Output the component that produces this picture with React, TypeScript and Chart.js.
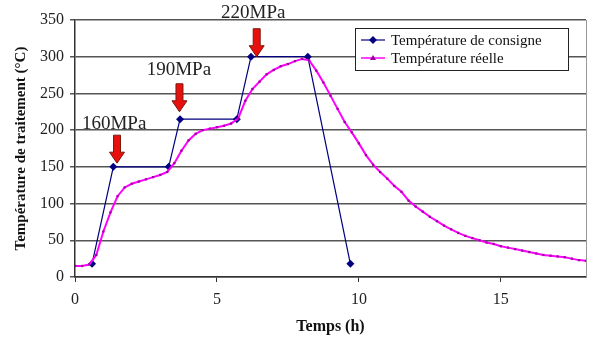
import React, { useEffect, useRef } from "react";
import { Chart, registerables } from "chart.js";

Chart.register(...registerables);

// Température de consigne (setpoint)
const consigneTemps = [0.6, 1.35, 3.3, 3.7, 5.7, 6.2, 8.2, 9.7];
const consigneValues = [18, 150, 150, 215, 215, 300, 300, 18];

// Température réelle (measured)
const reelleTemps = [
  0, 0.25, 0.5, 0.75, 1, 1.25, 1.5, 1.75, 2, 2.25, 2.5, 2.75, 3, 3.25, 3.5, 3.75,
  4, 4.25, 4.5, 4.75, 5, 5.25, 5.5, 5.75, 6, 6.25, 6.5, 6.75, 7, 7.25, 7.5, 7.75,
  8, 8.25, 8.5, 8.75, 9, 9.25, 9.5, 9.75, 10, 10.25, 10.5, 10.75, 11, 11.25, 11.5,
  11.75, 12, 12.25, 12.5, 12.75, 13, 13.25, 13.5, 13.75, 14, 14.25, 14.5, 14.75, 15,
  15.25, 15.5, 15.75, 16, 16.25, 16.5, 16.75, 17, 17.25, 17.5, 17.75, 18,
];
const reelleValues = [
  15, 15, 17, 30, 62, 88, 110, 122, 127, 130, 133, 136, 139, 143, 155, 172,
  186, 195, 200, 202, 204, 206, 209, 216, 240, 256, 266, 276, 282, 287, 290, 294,
  297, 295, 281, 265, 247, 229, 211, 197, 182, 166, 153, 143, 134, 124, 116,
  104, 96, 89, 82, 76, 70, 65, 60, 56, 53, 50, 47, 45, 42,
  40, 38, 36, 34, 32, 30, 29, 28, 27, 25, 23, 22,
];

const seriesNames = ["Température de consigne", "Température réelle"];

// Pressure annotations
const pressureLabels = ["160MPa", "190MPa", "220MPa"];
const labelTimes = [1.38, 3.66, 6.28];
const labelValues = [208, 282, 360];
const arrowTimes = [1.48, 3.68, 6.4];
const arrowTipValues = [155, 225, 300];

const xTickStep = 5;
const yTickStep = 50;

const NAVY = "#000080";
const MAGENTA = "#FF00FF";
const MARKER = "#A000A0";
const SERIF = "'Liberation Serif', 'Times New Roman', serif";

const overlayPlugin = {
  id: "overlay",
  afterDraw(chart: any) {
    const { ctx, chartArea, scales } = chart;
    const xs = scales.x;
    const ys = scales.y;
    ctx.save();
    // right border
    ctx.strokeStyle = "#999";
    ctx.lineWidth = 1;
    ctx.beginPath();
    ctx.moveTo(chartArea.right + 0.5, chartArea.top);
    ctx.lineTo(chartArea.right + 0.5, chartArea.bottom);
    ctx.stroke();

    // annotations
    ctx.font = `19px ${SERIF}`;
    ctx.fillStyle = "#222";
    ctx.textAlign = "center";
    ctx.textBaseline = "middle";
    pressureLabels.forEach((lab, i) => {
      ctx.fillText(lab, xs.getPixelForValue(labelTimes[i]), ys.getPixelForValue(labelValues[i]));
    });
    arrowTimes.forEach((t, i) => {
      const x = xs.getPixelForValue(t);
      const tip = ys.getPixelForValue(arrowTipValues[i]);
      const top = tip - 28;
      const hw = 3.5;
      const headW = 7.5;
      const headL = 11;
      ctx.beginPath();
      ctx.moveTo(x - hw, top);
      ctx.lineTo(x + hw, top);
      ctx.lineTo(x + hw, tip - headL);
      ctx.lineTo(x + headW, tip - headL);
      ctx.lineTo(x, tip);
      ctx.lineTo(x - headW, tip - headL);
      ctx.lineTo(x - hw, tip - headL);
      ctx.closePath();
      ctx.fillStyle = "#E8100C";
      ctx.fill();
      ctx.strokeStyle = "#7a1a10";
      ctx.lineWidth = 1;
      ctx.stroke();
    });

    // legend
    const lx = 355, ly = 28, lw = 213, lh = 42;
    ctx.fillStyle = "#fff";
    ctx.fillRect(lx, ly, lw, lh);
    ctx.strokeStyle = "#222";
    ctx.lineWidth = 1;
    ctx.strokeRect(lx + 0.5, ly + 0.5, lw, lh);
    ctx.font = `15px ${SERIF}`;
    ctx.textAlign = "left";
    ctx.textBaseline = "middle";
    const rows = [ly + 12, ly + 30];
    // row 1
    ctx.strokeStyle = NAVY;
    ctx.lineWidth = 1.2;
    ctx.beginPath();
    ctx.moveTo(lx + 6, rows[0]);
    ctx.lineTo(lx + 30, rows[0]);
    ctx.stroke();
    ctx.fillStyle = NAVY;
    ctx.beginPath();
    ctx.moveTo(lx + 18, rows[0] - 4);
    ctx.lineTo(lx + 22, rows[0]);
    ctx.lineTo(lx + 18, rows[0] + 4);
    ctx.lineTo(lx + 14, rows[0]);
    ctx.closePath();
    ctx.fill();
    ctx.fillStyle = "#111";
    ctx.fillText(seriesNames[0], lx + 36, rows[0] + 1);
    // row 2
    ctx.strokeStyle = MAGENTA;
    ctx.lineWidth = 1.5;
    ctx.beginPath();
    ctx.moveTo(lx + 6, rows[1]);
    ctx.lineTo(lx + 30, rows[1]);
    ctx.stroke();
    ctx.fillStyle = MARKER;
    ctx.beginPath();
    ctx.moveTo(lx + 18, rows[1] - 3);
    ctx.lineTo(lx + 21, rows[1] + 2);
    ctx.lineTo(lx + 15, rows[1] + 2);
    ctx.closePath();
    ctx.fill();
    ctx.fillStyle = "#111";
    ctx.fillText(seriesNames[1], lx + 36, rows[1] + 1);
    ctx.restore();
  },
};

export default function App() {
  const ref = useRef<HTMLCanvasElement | null>(null);
  useEffect(() => {
    if (!ref.current) return;
    const chart = new Chart(ref.current, {
      type: "line",
      data: {
        datasets: [
          {
            label: seriesNames[1],
            data: reelleTemps.map((t, i) => ({ x: t, y: reelleValues[i] })),
            borderColor: MAGENTA,
            backgroundColor: MARKER,
            borderWidth: 2,
            pointStyle: "rect",
            pointRadius: 1.6,
            pointBorderWidth: 0,
            tension: 0,
          },
          {
            label: seriesNames[0],
            data: consigneTemps.map((t, i) => ({ x: t, y: consigneValues[i] })),
            borderColor: NAVY,
            backgroundColor: NAVY,
            borderWidth: 1.2,
            pointStyle: "rectRot",
            pointRadius: 4,
            pointBorderWidth: 0,
            tension: 0,
          },
        ],
      },
      options: {
        animation: false,
        responsive: false,
        maintainAspectRatio: false,
        layout: { padding: { top: 20, right: 3, left: 12, bottom: 6 } },
        plugins: { legend: { display: false }, tooltip: { enabled: false } },
        scales: {
          x: {
            type: "linear",
            min: 0,
            max: 18,
            border: { color: "#333", width: 1.5 },
            grid: { drawOnChartArea: false, tickLength: 5, color: "#333" },
            ticks: { stepSize: xTickStep, color: "#222", font: { family: SERIF, size: 16 }, padding: 8 },
            afterBuildTicks: (s: any) => {
              s.ticks = s.ticks.filter((t: any) => t.value % xTickStep === 0);
            },
            afterFit: (s: any) => {
              s.height = 59;
            },
            title: {
              display: true,
              text: "Temps (h)",
              color: "#111",
              font: { family: SERIF, size: 16, weight: "bold" },
              padding: { top: 4, bottom: 0 },
            },
          },
          y: {
            min: 0,
            max: 350,
            border: { color: "#333", width: 1.5 },
            grid: { color: "#555", lineWidth: 1.5, tickLength: 5 },
            ticks: { stepSize: yTickStep, color: "#222", font: { family: SERIF, size: 16 }, padding: 6 },
            afterFit: (s: any) => {
              s.width = 63;
            },
            title: {
              display: true,
              text: "Température de traitement (°C)",
              color: "#111",
              font: { family: SERIF, size: 15, weight: "bold" },
              padding: { top: 0, bottom: 2 },
            },
          },
        },
      },
      plugins: [overlayPlugin],
    });
    return () => chart.destroy();
  }, []);
  return (
    <div style={{ position: "fixed", left: 0, top: 0, width: 590, height: 342, background: "#fff" }}>
      <canvas ref={ref} width={590} height={342} />
    </div>
  );
}
